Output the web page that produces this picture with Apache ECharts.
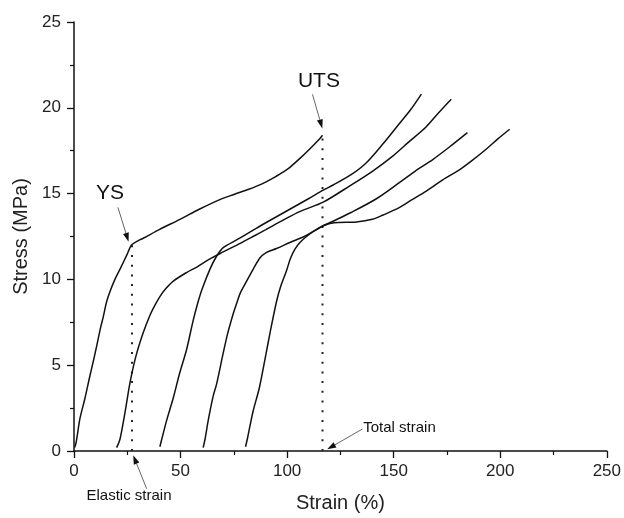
<!DOCTYPE html>
<html>
<head>
<meta charset="utf-8">
<script src="https://cdn.jsdelivr.net/npm/echarts@6/dist/echarts.min.js"></script>
<style>html,body{margin:0;padding:0;background:#fff}#c{width:624px;height:518px}</style>
</head>
<body>
<div id="c"></div>
<script>
// Stress-strain curves [strain %, stress MPa]
const curve0 = [[0.3,0.2],[1,0.5],[2.8,1.9],[5,3],[7.5,4.4],[9,5.2],[10.6,6.1],[12.5,7.2],[13.7,7.8],[15.3,8.7],[16.9,9.3],[19.2,10.0],[21.6,10.6],[24.7,11.4],[27,12.0],[30,12.25],[32.5,12.4],[40,12.9],[49.7,13.5],[59,14.1],[68.4,14.65],[75,14.95],[82,15.25],[88,15.55],[93.4,15.9],[98,16.25],[101,16.5],[106,17.05],[110.6,17.6],[115.3,18.2],[116.6,18.4]];
const curve20 = [[20,0.2],[21.6,0.7],[24,2.3],[26.3,4.0],[29,5.5],[32.5,6.9],[35.6,7.9],[38,8.5],[40.3,9.0],[43,9.45],[46.6,9.9],[52.8,10.4],[58,10.75],[63.8,11.2],[70,11.6],[78,12.1],[84,12.5],[90,12.9],[98.1,13.45],[105.9,13.95],[116.9,14.5],[129.4,15.45],[140,16.3],[149.7,17.2],[157,18.0],[165.3,18.9],[171,19.7],[177,20.5]];
const curve40 = [[40.3,0.25],[41,0.6],[43.5,1.8],[46.6,3.1],[49.5,4.5],[52.8,5.9],[55.9,7.6],[58,8.6],[60,9.4],[63.8,10.6],[66.9,11.35],[70,11.85],[76.3,12.3],[82.5,12.75],[90,13.3],[100,14.0],[110,14.7],[116.9,15.2],[121.6,15.5],[130,16.1],[137.2,16.8],[145,17.9],[152.8,19.1],[158,19.9],[163,20.8]];
const curve60 = [[60.6,0.2],[61.5,0.7],[63,1.8],[65.3,3.2],[66.9,3.9],[70,5.7],[72,6.8],[74.7,8.0],[76.3,8.6],[78,9.2],[81,9.9],[84.1,10.6],[87.2,11.25],[90,11.55],[95,11.8],[101.3,12.15],[108,12.5],[113.8,12.9],[116.9,13.13],[120,13.3],[130,13.9],[141.9,14.7],[152.8,15.65],[160,16.3],[168.5,17.0],[176,17.7],[184.6,18.55]];
const curve80 = [[80.5,0.25],[81.5,0.8],[84,2.3],[87,3.7],[90,5.6],[92,6.9],[95,8.7],[97,9.6],[99.7,10.5],[101.5,11.2],[103.6,11.75],[106,12.15],[109.1,12.5],[113,12.85],[116.9,13.13],[122,13.3],[132.5,13.35],[140,13.5],[145,13.75],[152.8,14.2],[158,14.6],[165.3,15.15],[173,15.8],[181,16.4],[187,16.95],[193.5,17.6],[199,18.2],[204.4,18.75]];

// Reference dotted lines
const elasticLine = [[27.2,0],[27.2,12.0]];
const utsLine = [[116.6,0],[116.6,18.4]];

// Annotations: text, text anchor, arrow start, arrow tip (data coords)
const annotations = [
  {text:'YS', at:[16.9,15.03], from:[20.6,14.2], to:[25.6,12.2], size:21, align:'center'},
  {text:'UTS', at:[114.9,21.53], from:[111.9,20.78], to:[116.5,18.8], size:21, align:'center'},
  {text:'Elastic strain', at:[25.8,-2.6], from:[34.1,-2.2], to:[27.8,-0.25], size:15, align:'center'},
  {text:'Total strain', at:[135.7,1.33], from:[135.3,1.28], to:[118.8,0.1], size:15, align:'left'}
];

const xTicks = {min:0, max:250, interval:50};
const yTicks = {min:0, max:25, interval:5};

const FONT = "'Liberation Sans', Arial, sans-serif";
const chart = echarts.init(document.getElementById('c'), null, {renderer:'canvas'});

function curveSeries(d){
  return {type:'line', data:d, showSymbol:false, smooth:0.3, silent:true,
    lineStyle:{color:'#111', width:1.5}, z:3};
}
function dotSeries(d){
  return {type:'line', data:d, showSymbol:false, silent:true,
    lineStyle:{color:'#222', width:2, type:[2,7.7], cap:'butt'}, z:2};
}
const axisCommon = {
  type:'value',
  axisLine:{show:true, lineStyle:{color:'#111', width:1.5}},
  axisTick:{show:true, inside:false, length:7, lineStyle:{color:'#111', width:1.3}},
  minorTick:{show:true, splitNumber:2, length:4, lineStyle:{color:'#111', width:1.2}},
  splitLine:{show:false},
  axisLabel:{fontSize:17, color:'#222', fontFamily:FONT},
  nameLocation:'middle',
  nameTextStyle:{fontSize:20, color:'#222', fontFamily:FONT}
};

chart.setOption({
  animation:false,
  backgroundColor:'#fff',
  grid:{left:74, right:17, top:22, bottom:65},
  xAxis:Object.assign({}, axisCommon, xTicks, {name:'Strain (%)', nameGap:42,
    axisLabel:Object.assign({}, axisCommon.axisLabel, {margin:12})}),
  yAxis:Object.assign({}, axisCommon, yTicks, {name:'Stress (MPa)', nameGap:31,
    axisLabel:Object.assign({}, axisCommon.axisLabel, {margin:13})}),
  series:[curveSeries(curve0), curveSeries(curve20), curveSeries(curve40), curveSeries(curve60), curveSeries(curve80),
          dotSeries(elasticLine), dotSeries(utsLine)]
});

const g = [];
annotations.forEach(a => {
  const p = chart.convertToPixel({gridIndex:0}, a.at);
  const s = chart.convertToPixel({gridIndex:0}, a.from);
  const t = chart.convertToPixel({gridIndex:0}, a.to);
  g.push({type:'text', x:p[0], y:p[1], z:10, style:{text:a.text, fontSize:a.size, fontFamily:FONT, fill:'#111', align:a.align, verticalAlign:'middle'}});
  const dx = t[0]-s[0], dy = t[1]-s[1], L = Math.hypot(dx,dy), ux = dx/L, uy = dy/L;
  const hl = 9, hw = 3;
  const bx = t[0]-ux*hl, by = t[1]-uy*hl;
  g.push({type:'line', z:10, shape:{x1:s[0], y1:s[1], x2:bx, y2:by}, style:{stroke:'#666', lineWidth:1}});
  g.push({type:'polygon', z:10, shape:{points:[[t[0],t[1]],[bx-uy*hw, by+ux*hw],[bx+uy*hw, by-ux*hw]]}, style:{fill:'#111'}});
});
chart.setOption({graphic:g});
</script>
</body>
</html>
